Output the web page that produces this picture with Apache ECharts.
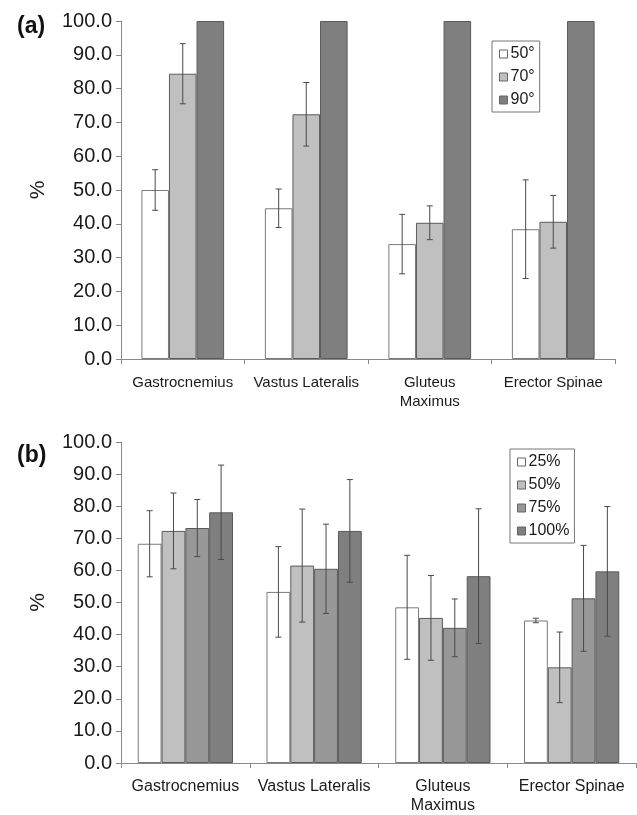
<!DOCTYPE html>
<html><head><meta charset="utf-8">
<script src="https://cdn.jsdelivr.net/npm/echarts@6/dist/echarts.min.js"></script>
<style>html,body{margin:0;padding:0;background:#fff}#c{width:637px;height:815px}</style>
</head><body><div id="c"></div>
<script>
var categories = ['Gastrocnemius', 'Vastus Lateralis', 'Gluteus\nMaximus', 'Erector Spinae'];
var yTicks = [0, 10, 20, 30, 40, 50, 60, 70, 80, 90, 100];

// Panel (a): angle
var aNames = ['50°', '70°', '90°'];
var a50 = [50.0, 44.6, 34.0, 38.4];
var a50err = [6.0, 5.7, 8.8, 14.6];
var a70 = [84.4, 72.4, 40.3, 40.6];
var a70err = [8.9, 9.4, 5.0, 7.8];
var a90 = [100, 100, 100, 100];
var a90err = [0, 0, 0, 0];

// Panel (b): load
var bNames = ['25%', '50%', '75%', '100%'];
var b25 = [68.3, 53.3, 48.5, 44.4];
var b25err = [10.3, 14.1, 16.2, 0.7];
var b50 = [72.3, 61.5, 45.2, 29.8];
var b50err = [11.8, 17.6, 13.2, 11.0];
var b75 = [73.2, 60.5, 42.1, 51.3];
var b75err = [8.9, 13.9, 9.0, 16.5];
var b100 = [78.1, 72.3, 58.2, 59.7];
var b100err = [14.7, 16.0, 21.0, 20.2];

var WHITE = '#ffffff', LIGHT = '#c0c0c0', MID = '#989898', DARK = '#7f7f7f';
var FONT = 'Liberation Sans, Arial, sans-serif';

var panels = [
  {names: aNames, vals: [a50, a70, a90], errs: [a50err, a70err, a90err], colors: [WHITE, LIGHT, DARK], gap: 0.33, catFont: 15},
  {names: bNames, vals: [b25, b50, b75, b100], errs: [b25err, b50err, b75err, b100err], colors: [WHITE, LIGHT, MID, DARK], gap: 0.26, catFont: 16}
];

var grids = [
  {left: 121, right: 22, top: 21, height: 338},
  {left: 121, right: 1, top: 442, height: 321}
];

var xAxes = [], yAxes = [], series = [], legends = [];
panels.forEach(function (p, gi) {
  xAxes.push({
    type: 'category', gridIndex: gi, data: categories,
    axisLine: {lineStyle: {color: '#8a8a8a', width: 1}},
    axisTick: {show: true, length: 5, lineStyle: {color: '#8a8a8a'}},
    axisLabel: {interval: 0, color: '#1a1a1a', fontSize: p.catFont, fontFamily: FONT, margin: 14, lineHeight: 19}
  });
  yAxes.push({
    type: 'value', gridIndex: gi, min: 0, max: 100, interval: 10,
    name: '%', nameLocation: 'middle', nameGap: 72, nameRotate: 90,
    nameTextStyle: {fontSize: 21, color: '#1a1a1a', fontFamily: FONT},
    axisLine: {show: true, lineStyle: {color: '#8a8a8a', width: 1}},
    axisTick: {show: true, length: 5, lineStyle: {color: '#8a8a8a'}},
    splitLine: {show: false},
    axisLabel: {color: '#1a1a1a', fontSize: 20, fontFamily: FONT, margin: 9,
      formatter: function (v) { return v.toFixed(1); }}
  });
  var n = p.names.length;
  var legendData = [];
  p.names.forEach(function (nm, si) {
    series.push({
      name: nm, type: 'bar', xAxisIndex: gi, yAxisIndex: gi,
      data: p.vals[si], barGap: '0%', barCategoryGap: (p.gap * 100) + '%',
      itemStyle: {color: p.colors[si], borderColor: si === 0 ? '#7a7a7a' : '#5a5a5a', borderWidth: 1},
      emphasis: {disabled: true}, animation: false
    });
    legendData.push({name: nm, itemStyle: {color: p.colors[si], borderColor: '#666', borderWidth: 1}});
  });
  p.names.forEach(function (nm, si) {
    var d = p.vals[si].map(function (v, ci) { return [ci, v, p.errs[si][ci]]; });
    series.push({
      type: 'custom', xAxisIndex: gi, yAxisIndex: gi, z: 5, silent: true, animation: false,
      data: d,
      renderItem: function (params, api) {
        var ci = api.value(0), v = api.value(1), e = api.value(2);
        if (!e) return null;
        var band = api.size([1, 0])[0];
        var groupW = band * (1 - p.gap);
        var bw = groupW / n;
        var c = api.coord([ci, v]);
        var x = c[0] - groupW / 2 + bw * (si + 0.5);
        var top = api.coord([ci, v + e])[1];
        var bot = api.coord([ci, v - e])[1];
        var cap = 3;
        var st = {stroke: '#4a4a4a', lineWidth: 1};
        return {type: 'group', children: [
          {type: 'line', shape: {x1: x, y1: top, x2: x, y2: bot}, style: st},
          {type: 'line', shape: {x1: x - cap, y1: top, x2: x + cap, y2: top}, style: st},
          {type: 'line', shape: {x1: x - cap, y1: bot, x2: x + cap, y2: bot}, style: st}
        ]};
      }
    });
  });
  legends.push({
    data: legendData, orient: 'vertical',
    left: gi === 0 ? 492 : 510, top: gi === 0 ? 41 : 449,
    borderColor: '#777', borderWidth: 1, padding: [5, 5, 4, 7],
    itemWidth: 8, itemHeight: 8, itemGap: 7, icon: 'rect', selectedMode: false,
    textStyle: {fontSize: 16, color: '#1a1a1a', fontFamily: FONT, padding: [0, 0, 0, -2]}
  });
});

var chart = echarts.init(document.getElementById('c'), null, {renderer: 'canvas'});
chart.setOption({
  animation: false,
  backgroundColor: '#ffffff',
  grid: grids,
  xAxis: xAxes,
  yAxis: yAxes,
  legend: legends,
  title: [
    {text: '(a)', left: 12, top: 10, textStyle: {fontSize: 23, fontWeight: 'bold', color: '#111', fontFamily: FONT}},
    {text: '(b)', left: 12, top: 439, textStyle: {fontSize: 23, fontWeight: 'bold', color: '#111', fontFamily: FONT}}
  ],
  series: series
});
</script></body></html>
